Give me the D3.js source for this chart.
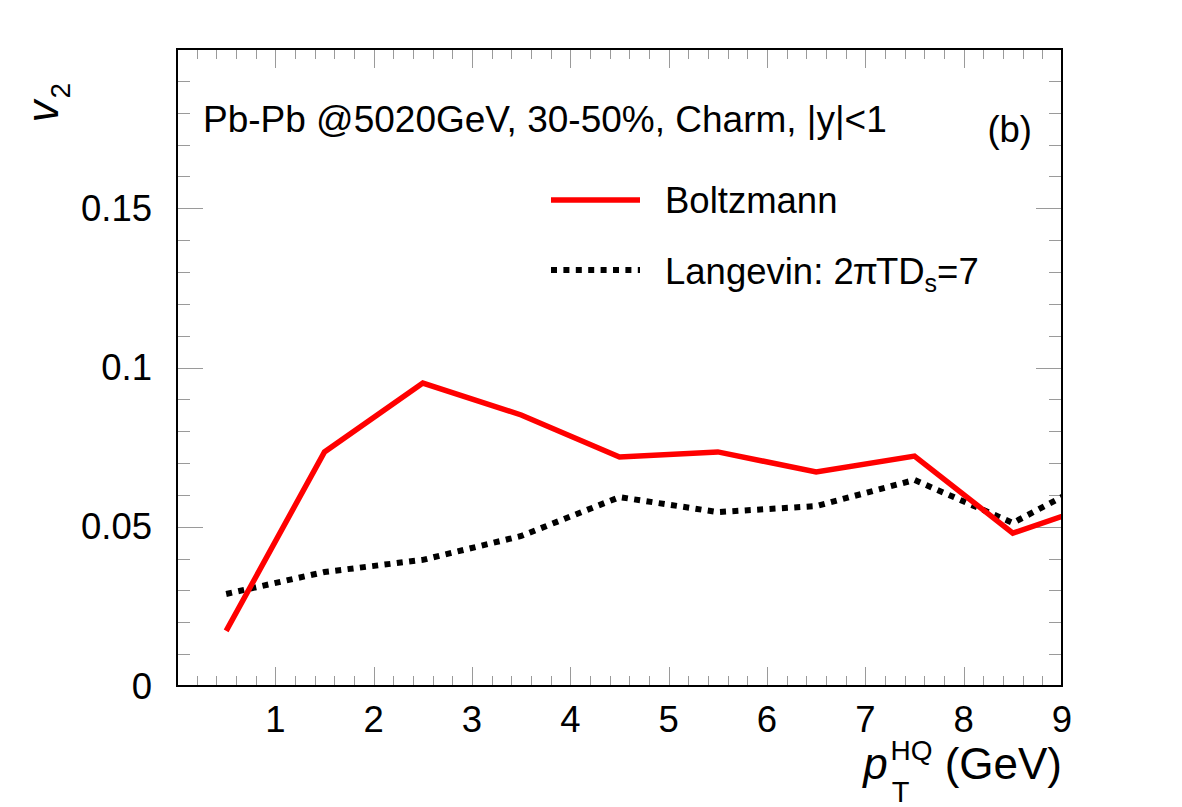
<!DOCTYPE html>
<html>

<head>
	<title>v2 vs pT</title>
	<meta charset="utf-8">
	<script src="https://cdn.jsdelivr.net/npm/d3@7"></script>
</head>

<style>
	body { margin: 0; background: #fff; }
	text { font-family: "Liberation Sans", Arial, Helvetica, sans-serif; fill: #000; }
</style>

<body>

	<svg width="1182" height="807"></svg>

	<script>
		// pT bin centres (GeV)
		var ptBins = [0.5, 1.5, 2.5, 3.5, 4.5, 5.5, 6.5, 7.5, 8.5, 9.5];
		var boltzmann = [0.0173, 0.0735, 0.0951, 0.0851, 0.0719, 0.0735, 0.0672, 0.0722, 0.0480, 0.0585];
		var langevin = [0.0289, 0.0358, 0.0396, 0.0471, 0.0593, 0.0546, 0.0565, 0.0647, 0.0512, 0.0675];
		var xTicks = [1, 2, 3, 4, 5, 6, 7, 8, 9];
		var yTicks = [0, 0.05, 0.1, 0.15];
		var yTickLabels = ['0', '0.05', '0.1', '0.15'];

		var frameL = 177, frameR = 1062, frameT = 49, frameB = 686;

		var x = d3.scaleLinear().domain([0, 9]).range([frameL, frameR]);
		var y = d3.scaleLinear().domain([0, 0.2]).range([frameB, frameT]);

		var svg = d3.select('svg');

		svg.append('defs').append('clipPath').attr('id', 'frame')
			.append('rect')
			.attr('x', frameL).attr('y', frameT)
			.attr('width', frameR - frameL).attr('height', frameB - frameT);

		// ticks (ROOT style: inside, on all four sides)
		var tickColor = '#9a9a9a';
		var xMinor = d3.range(1, 45).map(function(i) { return i * 0.2; });
		var yMinor = d3.range(1, 20).map(function(i) { return i * 0.01; });

		var ticks = svg.append('g').attr('stroke', tickColor).attr('stroke-width', 1);

		xMinor.forEach(function(v) {
			var major = Math.abs(v - Math.round(v)) < 1e-6;
			var len = major ? 19 : 10;
			var px = Math.round(x(v)) + 0.5;
			ticks.append('line').attr('x1', px).attr('x2', px).attr('y1', frameB).attr('y2', frameB - len);
			ticks.append('line').attr('x1', px).attr('x2', px).attr('y1', frameT).attr('y2', frameT + len);
		});

		yMinor.forEach(function(v) {
			var major = Math.abs(v * 20 - Math.round(v * 20)) < 1e-6;
			var len = major ? 26 : 13;
			var py = Math.round(y(v)) + 0.5;
			ticks.append('line').attr('y1', py).attr('y2', py).attr('x1', frameL).attr('x2', frameL + len);
			ticks.append('line').attr('y1', py).attr('y2', py).attr('x1', frameR).attr('x2', frameR - len);
		});

		// tick labels
		svg.append('g').selectAll('text')
			.data(xTicks)
			.enter()
			.append('text')
			.attr('x', function(d) { return x(d); })
			.attr('y', 732)
			.attr('text-anchor', 'middle')
			.style('font-size', '36.5px')
			.text(function(d) { return d; });

		svg.append('g').selectAll('text')
			.data(yTicks)
			.enter()
			.append('text')
			.attr('x', 152)
			.attr('y', function(d) { return y(d) + 12.5; })
			.attr('text-anchor', 'end')
			.style('font-size', '36.5px')
			.text(function(d, i) { return yTickLabels[i]; });

		// curves
		var line = d3.line()
			.x(function(d) { return x(d[0]); })
			.y(function(d) { return y(d[1]); });

		var plot = svg.append('g').attr('clip-path', 'url(#frame)');

		plot.append('path')
			.datum(d3.zip(ptBins, langevin))
			.attr('d', line)
			.attr('fill', 'none')
			.attr('stroke', '#000')
			.attr('stroke-width', 6)
			.attr('stroke-dasharray', '6,6.4');

		plot.append('path')
			.datum(d3.zip(ptBins, boltzmann))
			.attr('d', line)
			.attr('fill', 'none')
			.attr('stroke', '#ff0000')
			.attr('stroke-width', 5.5);

		// frame
		svg.append('rect')
			.attr('x', frameL).attr('y', frameT)
			.attr('width', frameR - frameL).attr('height', frameB - frameT)
			.attr('fill', 'none')
			.attr('stroke', '#000')
			.attr('stroke-width', 2);

		// header and panel tag
		svg.append('text')
			.attr('x', 203).attr('y', 132)
			.style('font-size', '37px')
			.text('Pb-Pb @5020GeV, 30-50%, Charm, |y|<1');

		svg.append('text')
			.attr('x', 1032).attr('y', 142)
			.attr('text-anchor', 'end')
			.style('font-size', '36.5px')
			.text('(b)');

		// legend
		svg.append('line')
			.attr('x1', 551).attr('x2', 640).attr('y1', 200).attr('y2', 200)
			.attr('stroke', '#ff0000').attr('stroke-width', 5.5);
		svg.append('text')
			.attr('x', 665).attr('y', 213)
			.style('font-size', '36.5px')
			.text('Boltzmann');

		svg.append('line')
			.attr('x1', 551).attr('x2', 640).attr('y1', 270).attr('y2', 270)
			.attr('stroke', '#000').attr('stroke-width', 6)
			.attr('stroke-dasharray', '6,6.4');
		var lt = svg.append('text')
			.attr('x', 665).attr('y', 284)
			.style('font-size', '36.5px');
		lt.append('tspan').text('Langevin: 2');
		lt.append('tspan').attr('dx', -1).text('\u03c0');
		lt.append('tspan').attr('dx', -2).text('TD');
		lt.append('tspan').attr('dy', 8).style('font-size', '25px').text('s');
		lt.append('tspan').attr('dy', -8).text('=7');

		// axis titles
		var xt = svg.append('text')
			.attr('x', 1062).attr('y', 779)
			.attr('text-anchor', 'end')
			.style('font-size', '44px');
		xt.append('tspan').style('font-style', 'italic').text('p');
		xt.append('tspan').attr('dx', 4).attr('dy', 23).style('font-size', '29px').text('T');
		xt.append('tspan').attr('dx', -19).attr('dy', -42).style('font-size', '28px').text('HQ');
		xt.append('tspan').attr('dy', 19).text(' (GeV)');

		var yt = svg.append('text')
			.attr('transform', 'translate(58,83) rotate(-90)')
			.attr('text-anchor', 'end')
			.style('font-size', '44px');
		yt.append('tspan').style('font-style', 'italic').text('v');
		yt.append('tspan').attr('dx', 2).attr('dy', 12).style('font-size', '28px').text('2');
	</script>
</body>

</html>
